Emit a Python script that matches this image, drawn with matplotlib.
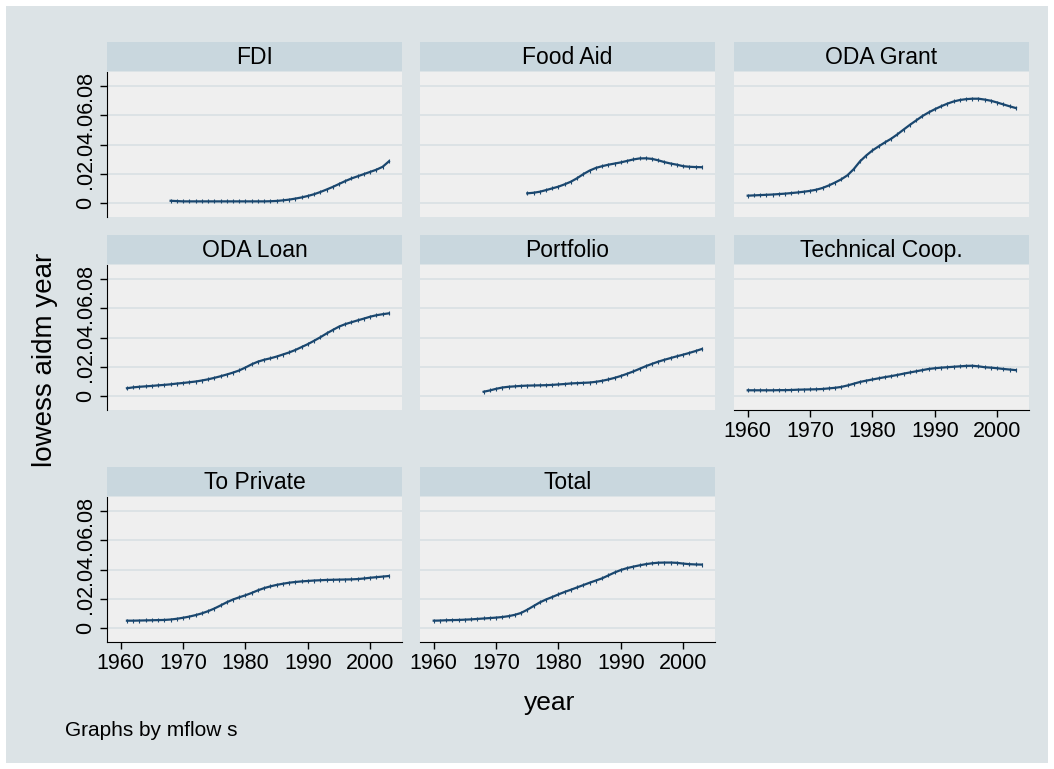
import numpy as np
import matplotlib.pyplot as plt
from matplotlib.patches import Rectangle

plt.rcParams['font.family'] = ['Liberation Sans', 'DejaVu Sans']

W, H = 1054, 769

panel_names = ["FDI", "Food Aid", "ODA Grant", "ODA Loan", "Portfolio",
               "Technical Coop.", "To Private", "Total"]

fdi_start = 1968
fdi = [0.0015, 0.0013, 0.0011, 0.0011, 0.0011, 0.0011, 0.0011, 0.0011, 0.0011,
       0.0011, 0.0011, 0.0011, 0.0011, 0.0011, 0.0011, 0.0011, 0.0012, 0.0014,
       0.0018, 0.0023, 0.0030, 0.0038, 0.0048, 0.0060, 0.0075, 0.0092, 0.0110,
       0.0130, 0.0150, 0.0168, 0.0183, 0.0198, 0.0213, 0.0228, 0.0248, 0.0285]

food_start = 1975
food = [0.0066, 0.0070, 0.0077, 0.0088, 0.0100, 0.0112, 0.0128, 0.0146, 0.0170,
        0.0198, 0.0222, 0.0240, 0.0252, 0.0262, 0.0270, 0.0278, 0.0288, 0.0298,
        0.0305, 0.0306, 0.0302, 0.0292, 0.0280, 0.0270, 0.0262, 0.0252, 0.0248,
        0.0246, 0.0245]

grant_start = 1960
grant = [0.0050, 0.0052, 0.0054, 0.0056, 0.0058, 0.0061, 0.0064, 0.0068, 0.0072,
         0.0077, 0.0083, 0.0091, 0.0103, 0.0120, 0.0140, 0.0162, 0.0190, 0.0232,
         0.0285, 0.0325, 0.0360, 0.0388, 0.0415, 0.0440, 0.0470, 0.0503, 0.0535,
         0.0565, 0.0595, 0.0620, 0.0642, 0.0662, 0.0680, 0.0695, 0.0705, 0.0711,
         0.0714, 0.0714, 0.0708, 0.0700, 0.0688, 0.0675, 0.0662, 0.0650]

loan_start = 1961
loan = [0.0053, 0.0059, 0.0063, 0.0066, 0.0069, 0.0073, 0.0076, 0.0080, 0.0085,
        0.0089, 0.0094, 0.0099, 0.0106, 0.0114, 0.0124, 0.0135, 0.0147, 0.0160,
        0.0175, 0.0195, 0.0217, 0.0235, 0.0248, 0.0258, 0.0270, 0.0284, 0.0298,
        0.0315, 0.0335, 0.0355, 0.0378, 0.0402, 0.0428, 0.0452, 0.0475, 0.0492,
        0.0505, 0.0518, 0.0530, 0.0543, 0.0553, 0.0560, 0.0566]

port_start = 1968
port = [0.0029, 0.0038, 0.0049, 0.0058, 0.0063, 0.0066, 0.0069, 0.0071, 0.0072,
        0.0073, 0.0074, 0.0076, 0.0079, 0.0082, 0.0086, 0.0088, 0.0090, 0.0092,
        0.0097, 0.0104, 0.0113, 0.0124, 0.0137, 0.0152, 0.0168, 0.0186, 0.0204,
        0.0220, 0.0235, 0.0248, 0.0260, 0.0272, 0.0283, 0.0295, 0.0308, 0.0322]

tech_start = 1960
tech = [0.0039, 0.0039, 0.0039, 0.0039, 0.0039, 0.0040, 0.0040, 0.0041, 0.0043,
        0.0044, 0.0045, 0.0046, 0.0048, 0.0052, 0.0056, 0.0062, 0.0072, 0.0084,
        0.0096, 0.0105, 0.0113, 0.0121, 0.0129, 0.0136, 0.0144, 0.0153, 0.0161,
        0.0169, 0.0177, 0.0185, 0.0190, 0.0194, 0.0197, 0.0200, 0.0203, 0.0206,
        0.0207, 0.0203, 0.0197, 0.0194, 0.0190, 0.0185, 0.0181, 0.0177]

priv_start = 1961
priv = [0.0050, 0.0050, 0.0051, 0.0052, 0.0053, 0.0054, 0.0055, 0.0058, 0.0063,
        0.0070, 0.0078, 0.0088, 0.0100, 0.0115, 0.0133, 0.0154, 0.0176, 0.0195,
        0.0210, 0.0224, 0.0240, 0.0258, 0.0273, 0.0285, 0.0295, 0.0303, 0.0310,
        0.0315, 0.0319, 0.0322, 0.0325, 0.0327, 0.0329, 0.0330, 0.0331, 0.0332,
        0.0333, 0.0335, 0.0339, 0.0344, 0.0348, 0.0352, 0.0356]

total_start = 1960
total = [0.0050, 0.0051, 0.0053, 0.0054, 0.0055, 0.0057, 0.0059, 0.0062, 0.0065,
         0.0068, 0.0071, 0.0075, 0.0081, 0.0090, 0.0103, 0.0125, 0.0150, 0.0175,
         0.0195, 0.0212, 0.0230, 0.0247, 0.0262, 0.0278, 0.0294, 0.0310, 0.0325,
         0.0340, 0.0360, 0.0380, 0.0397, 0.0410, 0.0420, 0.0429, 0.0437, 0.0443,
         0.0447, 0.0448, 0.0448, 0.0446, 0.0441, 0.0437, 0.0435, 0.0434]

series = [(fdi_start, fdi), (food_start, food), (grant_start, grant),
          (loan_start, loan), (port_start, port), (tech_start, tech),
          (priv_start, priv), (total_start, total)]

y_ticks = [0, 0.02, 0.04, 0.06, 0.08]
y_tick_labels = ["0", ".02", ".04", ".06", ".08"]
x_ticks = [1960, 1970, 1980, 1990, 2000]

# colours (Stata s2color look)
outer_bg = '#dce3e6'
strip_bg = '#c9d7de'
plot_bg = '#efefef'
grid_col = '#dbe1e4'
line_col = '#1a476f'


def rect(left, top, w, h):
    return [left / W, 1 - (top + h) / H, w / W, h / H]


fig = plt.figure(figsize=(W / 100, H / 100), dpi=100, facecolor='white')
fig.patches.append(Rectangle((6 / W, 6 / H), 1 - 12 / W, 1 - 12 / H,
                             transform=fig.transFigure, facecolor=outer_bg,
                             edgecolor='none', zorder=-10))

col_left = [107, 420, 734]
row_top = [72, 265, 497]
pw, ph, sh = 295, 145, 30

for i, name in enumerate(panel_names):
    r, c = divmod(i, 3)
    left, top = col_left[c], row_top[r]

    sax = fig.add_axes(rect(left, top - sh, pw, sh - 1))
    sax.set_facecolor(strip_bg)
    sax.set_xticks([])
    sax.set_yticks([])
    for s in sax.spines.values():
        s.set_visible(False)
    sax.text(0.5, 0.48, name, ha='center', va='center', fontsize=16.5,
             transform=sax.transAxes)

    ax = fig.add_axes(rect(left, top, pw, ph))
    ax.set_facecolor(plot_bg)
    start, vals = series[i]
    yrs = np.arange(start, start + len(vals))
    ax.plot(yrs, vals, color=line_col, lw=1.6, marker='|', ms=2.5, mew=0.8)
    ax.set_xlim(1957.8, 2005.1)
    ax.set_ylim(-0.0096, 0.0897)
    ax.set_yticks(y_ticks)
    ax.set_xticks(x_ticks)
    ax.grid(axis='y', color=grid_col, lw=1.3)
    ax.set_axisbelow(True)
    for s in ax.spines.values():
        s.set_visible(False)

    show_y = (c == 0)
    show_x = (r == 2) or name == "Technical Coop."
    ax.tick_params(axis='both', direction='out', length=5, width=1,
                   labelsize=15.5, color='black', pad=3)
    if show_y:
        ax.spines['left'].set_visible(True)
        ax.set_yticklabels(y_tick_labels, rotation=90, va='center')
    else:
        ax.tick_params(axis='y', left=False, labelleft=False)
    if show_x:
        ax.spines['bottom'].set_visible(True)
        ax.set_xticklabels([str(t) for t in x_ticks])
    else:
        ax.tick_params(axis='x', bottom=False, labelbottom=False)

fig.text(45 / W, 1 - 360 / H, "lowess aidm year", rotation=90, ha='center',
         va='center', fontsize=20)
fig.text(550 / W, 1 - 703 / H, "year", ha='center', va='center', fontsize=19)
fig.text(65 / W, 1 - 731 / H, "Graphs by mflow s", ha='left', va='center',
         fontsize=15)

fig.savefig('out.png', dpi=100, facecolor=fig.get_facecolor())
